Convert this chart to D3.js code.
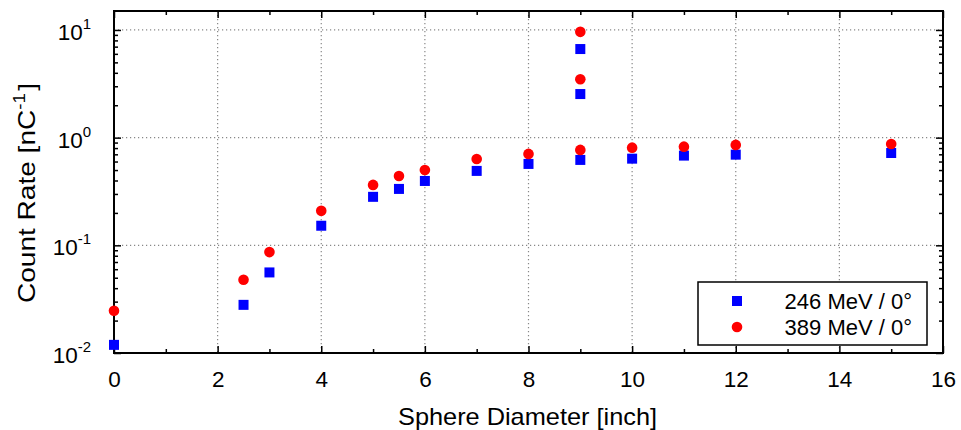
<!DOCTYPE html>
<html><head><meta charset="utf-8">
<script src="https://cdn.jsdelivr.net/npm/d3@7"></script>
<style>body{margin:0;background:#fff}svg{display:block;font-family:"Liberation Sans",Arial,sans-serif}</style>
</head><body><svg id="c" width="961" height="430"></svg>
<script>
const diam246 = [0, 2.5, 3, 4, 5, 5.5, 6, 7, 8, 9, 9, 9, 10, 11, 12, 15];
const rate246 = [0.0119, 0.028, 0.056, 0.152, 0.282, 0.334, 0.396, 0.491, 0.57, 6.65, 2.54, 0.621, 0.638, 0.681, 0.695, 0.72];
const diam389 = [0, 2.5, 3, 4, 5, 5.5, 6, 7, 8, 9, 9, 9, 10, 11, 12, 15];
const rate389 = [0.0247, 0.0479, 0.0865, 0.209, 0.364, 0.441, 0.501, 0.634, 0.706, 9.6, 3.48, 0.769, 0.807, 0.825, 0.856, 0.874];
const xTicks = [0, 2, 4, 6, 8, 10, 12, 14, 16];
const yTickExps = [-2, -1, 0, 1];
const seriesNames = ["246 MeV / 0°", "389 MeV / 0°"];

const svg = d3.select("#c");
const L = 114, R = 943, T = 11, B = 353;
const x = d3.scaleLinear().domain([0, 16]).range([L, R]);
const y = d3.scaleLog().domain([0.01, 15]).range([B, T]);

// grid
const g = svg.append("g");
xTicks.filter(v => v > 0 && v < 16).forEach(v => {
  g.append("line").attr("x1", x(v)).attr("x2", x(v)).attr("y1", T).attr("y2", B)
    .attr("stroke", "#888").attr("stroke-width", 1.2).attr("stroke-dasharray", "1.2,2.8");
});
yTickExps.filter(e => e > -2).forEach(e => {
  g.append("line").attr("x1", L).attr("x2", R).attr("y1", y(Math.pow(10, e))).attr("y2", y(Math.pow(10, e)))
    .attr("stroke", "#888").attr("stroke-width", 1.2).attr("stroke-dasharray", "1.2,2.8");
});

// axes ticks (inward)
const minorX = d3.range(1, 16, 2);
const xb = d3.axisBottom(x).tickValues(xTicks).tickSize(-7).tickPadding(18).tickFormat(d3.format("d"));
const xAx = svg.append("g").attr("transform", `translate(0,${B})`).call(xb);
xAx.select(".domain").remove();
xAx.selectAll("text").attr("font-size", 22.5).attr("font-family", "Liberation Sans, Arial, sans-serif").attr("fill", "#000");
xAx.selectAll("line").attr("stroke-width", 1.5);
const xbm = d3.axisBottom(x).tickValues(minorX).tickSize(-4).tickFormat("");
svg.append("g").attr("transform", `translate(0,${B})`).call(xbm).call(a => a.select(".domain").remove()).selectAll("line").attr("stroke-width", 1.5);
const xt = d3.axisTop(x).tickValues(xTicks).tickSize(-7).tickFormat("");
svg.append("g").attr("transform", `translate(0,${T})`).call(xt).call(a => a.select(".domain").remove()).selectAll("line").attr("stroke-width", 1.5);
const xtm = d3.axisTop(x).tickValues(minorX).tickSize(-4).tickFormat("");
svg.append("g").attr("transform", `translate(0,${T})`).call(xtm).call(a => a.select(".domain").remove()).selectAll("line").attr("stroke-width", 1.5);

const majorY = yTickExps.map(e => Math.pow(10, e));
const minorY = [];
[-2, -1, 0, 1].forEach(e => { for (let k = 2; k <= 9; k++) { const v = k * Math.pow(10, e); if (v <= 15) minorY.push(v); } });
[[d3.axisLeft, L], [d3.axisRight, R]].forEach(([fn, pos]) => {
  svg.append("g").attr("transform", `translate(${pos},0)`).call(fn(y).tickValues(majorY).tickSize(-7).tickFormat(""))
    .call(a => a.select(".domain").remove()).selectAll("line").attr("stroke-width", 1.5);
  svg.append("g").attr("transform", `translate(${pos},0)`).call(fn(y).tickValues(minorY).tickSize(-4).tickFormat(""))
    .call(a => a.select(".domain").remove()).selectAll("line").attr("stroke-width", 1.5);
});
// y labels with superscripts
yTickExps.forEach(e => {
  const t = svg.append("text").attr("x", L - 23).attr("y", y(Math.pow(10, e)) + 10)
    .attr("text-anchor", "end").attr("font-size", 22.5).attr("fill", "#000");
  t.append("tspan").text("10");
  t.append("tspan").attr("dy", -11).attr("font-size", 15).text(String(e));
});
// frame
svg.append("rect").attr("x", L).attr("y", T).attr("width", R - L).attr("height", B - T)
  .attr("fill", "none").attr("stroke", "#000").attr("stroke-width", 2);

// axis titles
svg.append("text").attr("x", 527.5).attr("y", 425).attr("text-anchor", "middle")
  .attr("font-size", 24).attr("fill", "#000").attr("textLength", 259).attr("lengthAdjust", "spacingAndGlyphs")
  .text("Sphere Diameter [inch]");
const yt = svg.append("text").attr("transform", `translate(35,193) rotate(-90)`)
  .attr("text-anchor", "middle").attr("font-size", 24).attr("fill", "#000")
  .attr("textLength", 220).attr("lengthAdjust", "spacingAndGlyphs");
yt.append("tspan").text("Count Rate [nC");
yt.append("tspan").attr("dy", -10).attr("font-size", 16).text("-1");
yt.append("tspan").attr("dy", 10).attr("dx", 2).text("]");

// markers
const S = 10;
svg.append("g").selectAll("rect").data(diam246.map((d, i) => [d, rate246[i]])).join("rect")
  .attr("x", d => x(d[0]) - S / 2).attr("y", d => y(d[1]) - S / 2).attr("width", S).attr("height", S).attr("fill", "#0000ff");
svg.append("g").selectAll("circle").data(diam389.map((d, i) => [d, rate389[i]])).join("circle")
  .attr("cx", d => x(d[0])).attr("cy", d => y(d[1])).attr("r", 5.3).attr("fill", "#ff0000");

// legend
const lg = svg.append("g");
lg.append("rect").attr("x", 698).attr("y", 282).attr("width", 229).attr("height", 63)
  .attr("fill", "#fff").attr("stroke", "#000").attr("stroke-width", 1.5);
lg.append("rect").attr("x", 737 - S / 2).attr("y", 301 - S / 2).attr("width", S).attr("height", S).attr("fill", "#0000ff");
lg.append("circle").attr("cx", 737).attr("cy", 327).attr("r", 5.3).attr("fill", "#ff0000");
seriesNames.forEach((n, i) => {
  lg.append("text").attr("x", 912).attr("y", 309 + i * 25.5).attr("text-anchor", "end")
    .attr("font-size", 22).attr("fill", "#000").text(n);
});
</script></body></html>
